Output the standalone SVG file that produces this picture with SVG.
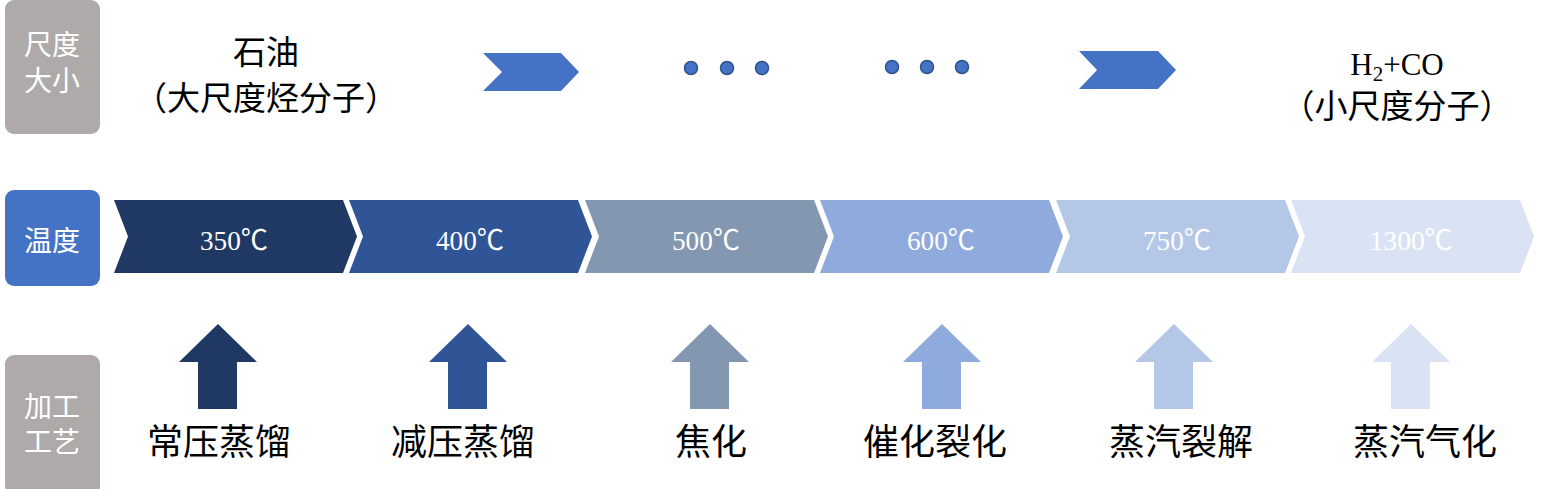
<svg xmlns="http://www.w3.org/2000/svg" width="1551" height="489" viewBox="0 0 1551 489">
<style>
.lbl{font-family:"Liberation Serif","Noto Sans CJK SC",serif;font-size:28px;fill:#ffffff;text-anchor:middle}
.big{font-family:"Liberation Serif","Noto Sans CJK SC",serif;font-size:33px;fill:#000000;text-anchor:middle}
.proc{font-family:"Liberation Serif","Noto Sans CJK SC",serif;font-size:36px;fill:#000000;text-anchor:middle}
.temp{font-family:"Liberation Serif","Noto Sans CJK SC",serif;font-size:28px;fill:#ffffff;text-anchor:middle}
.dot{fill:#4472C4;stroke:#2F528F;stroke-width:1.5}
.c1{fill:#203864}.c2{fill:#2F5597}.c3{fill:#8497B0}.c4{fill:#8FAADC}.c5{fill:#B4C7E7}.c6{fill:#DAE3F3}
</style>
<defs>
<polygon id="chev" points="0,200 229,200 243,236.5 229,273 0,273 14,236.5"/>
<polygon id="up" points="0,324 39,362 19,362 19,409 -20,409 -20,362 -39,362"/>
</defs>
<rect width="1551" height="489" fill="#ffffff"/>

<g id="label-size">
<rect x="5" y="0" width="95" height="134" rx="9" fill="#AEAAAA"/>
<text class="lbl" x="52" y="55">尺度</text>
<text class="lbl" x="52" y="91">大小</text>
</g>
<g id="label-temp">
<rect x="5" y="190" width="95" height="96" rx="9" fill="#4472C4"/>
<text class="lbl" x="52" y="251">温度</text>
</g>
<g id="label-proc">
<rect x="5" y="355" width="95" height="140" rx="9" fill="#AEAAAA"/>
<text class="lbl" x="52" y="417">加工</text>
<text class="lbl" x="52" y="452">工艺</text>
</g>

<g id="oil">
<text class="big" x="266" y="64">石油</text>
<text class="big" x="266" y="110">（大尺度烃分子）</text>
</g>
<g id="syngas">
<text class="big" x="1397" y="75" style="font-size:31px">H<tspan dy="6" style="font-size:21px">2</tspan><tspan dy="-6">+CO</tspan></text>
<text class="big" x="1397" y="118">（小尺度分子）</text>
</g>

<g id="connectors">
<polygon points="483,53 561,53 579,72 561,91 483,91 502,72" fill="#4472C4"/>
<polygon points="1079,51 1158,51 1176,70 1158,89 1079,89 1097,70" fill="#4472C4"/>
<circle class="dot" cx="691" cy="68" r="6.5"/>
<circle class="dot" cx="727" cy="68" r="6.5"/>
<circle class="dot" cx="762" cy="68" r="6.5"/>
<circle class="dot" cx="892" cy="67" r="6.5"/>
<circle class="dot" cx="927" cy="67" r="6.5"/>
<circle class="dot" cx="962" cy="67" r="6.5"/>
</g>

<g id="t350"><use href="#chev" x="114" class="c1"/><text class="temp" x="234" y="250" textLength="68" lengthAdjust="spacingAndGlyphs">350℃</text></g>
<g id="t400"><use href="#chev" x="349" class="c2"/><text class="temp" x="470" y="250" textLength="68" lengthAdjust="spacingAndGlyphs">400℃</text></g>
<g id="t500"><use href="#chev" x="585" class="c3"/><text class="temp" x="706" y="250" textLength="68" lengthAdjust="spacingAndGlyphs">500℃</text></g>
<g id="t600"><use href="#chev" x="820" class="c4"/><text class="temp" x="941" y="250" textLength="68" lengthAdjust="spacingAndGlyphs">600℃</text></g>
<g id="t750"><use href="#chev" x="1056" class="c5"/><text class="temp" x="1177" y="250" textLength="68" lengthAdjust="spacingAndGlyphs">750℃</text></g>
<g id="t1300"><use href="#chev" x="1291" class="c6"/><text class="temp" x="1411" y="250" textLength="83" lengthAdjust="spacingAndGlyphs">1300℃</text></g>

<g id="p1"><use href="#up" x="218" class="c1"/><text class="proc" x="219" y="455">常压蒸馏</text></g>
<g id="p2"><use href="#up" x="468" class="c2"/><text class="proc" x="463" y="455">减压蒸馏</text></g>
<g id="p3"><use href="#up" x="710" class="c3"/><text class="proc" x="711" y="455">焦化</text></g>
<g id="p4"><use href="#up" x="942" class="c4"/><text class="proc" x="935" y="455">催化裂化</text></g>
<g id="p5"><use href="#up" x="1174" class="c5"/><text class="proc" x="1181" y="455">蒸汽裂解</text></g>
<g id="p6"><use href="#up" x="1411" class="c6"/><text class="proc" x="1425" y="455">蒸汽气化</text></g>
</svg>
